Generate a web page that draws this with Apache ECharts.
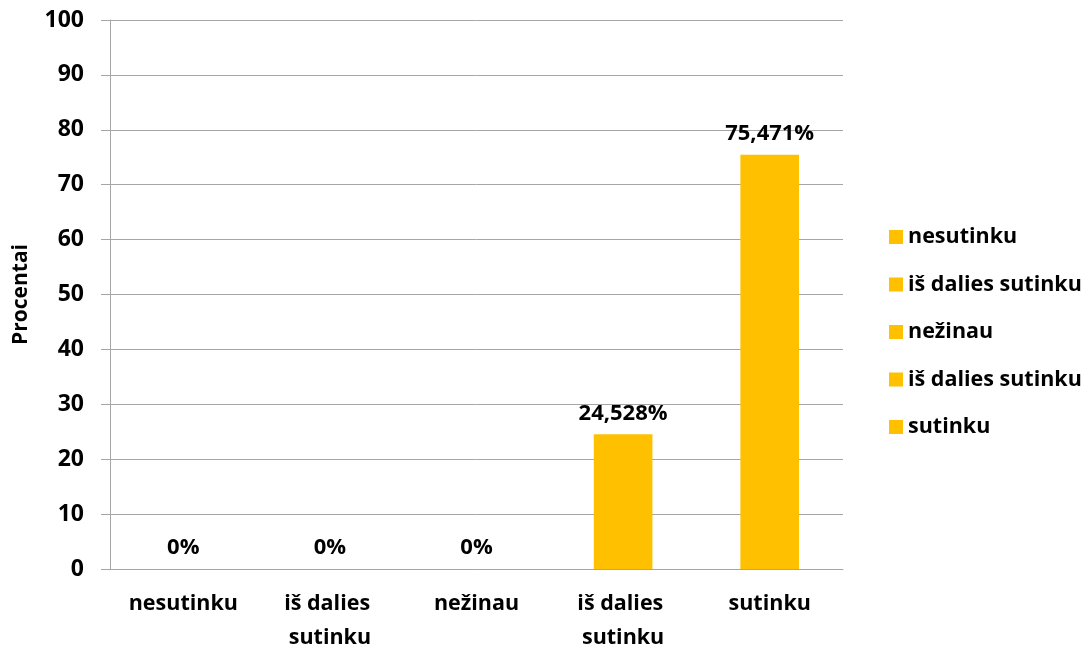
<!DOCTYPE html>
<html>
<head>
<meta charset="utf-8">
<script src="https://cdn.jsdelivr.net/npm/echarts@6/dist/echarts.min.js"></script>
<style>
    html, body { margin: 0; padding: 0; background: #fff; }
    #chart { width: 1088px; height: 647px; }
</style>
</head>
<body>
<div id="chart"></div>
<script>
var categories = ['nesutinku', 'iš dalies sutinku', 'nežinau', 'iš dalies sutinku', 'sutinku'];
var values = [0, 0, 0, 24.528, 75.471];
var yTicks = [0, 10, 20, 30, 40, 50, 60, 70, 80, 90, 100];

var chart = echarts.init(document.getElementById('chart'));
var font = '"Open Sans", Lato, sans-serif';
var gray = '#a6a6a6';

// one series per answer so the legend can list every answer, even duplicates
var series = [];
var legendKeys = [];
for (var i = 0; i < categories.length; i++) {
    var key = 's' + i;
    legendKeys.push(key);
    var data = [];
    for (var j = 0; j < categories.length; j++) {
        data.push(j === i ? values[i] : '-');
    }
    series.push({
        name: key,
        type: 'bar',
        stack: 'all',
        barWidth: '40%',
        itemStyle: { color: '#FFC000' },
        label: {
            show: true,
            position: 'top',
            distance: 10,
            color: '#000',
            fontFamily: font,
            fontWeight: 'bold',
            fontSize: 22,
            formatter: function (p) {
                return String(p.value).replace('.', ',') + '%';
            }
        },
        data: data
    });
}

var option = {
    animation: false,
    grid: { left: 110, right: 245, top: 20, bottom: 78, outerBoundsMode: 'none' },
    legend: {
        orient: 'vertical',
        left: 884,
        top: 219,
        icon: 'rect',
        itemWidth: 14,
        itemHeight: 14,
        itemGap: 21.5,
        data: legendKeys,
        formatter: function (name) {
            return categories[legendKeys.indexOf(name)];
        },
        textStyle: { color: '#000', fontFamily: font, fontWeight: 'bold', fontSize: 21.5, lineHeight: 26 }
    },
    xAxis: {
        type: 'category',
        data: categories,
        axisLine: { lineStyle: { color: gray } },
        axisTick: { length: 6, lineStyle: { color: gray } },
        axisLabel: {
            color: '#000',
            fontFamily: font,
            fontWeight: 'bold',
            fontSize: 21.5,
            lineHeight: 34,
            margin: 18,
            interval: 0,
            width: 135,
            overflow: 'break'
        }
    },
    yAxis: {
        type: 'value',
        min: yTicks[0],
        max: yTicks[yTicks.length - 1],
        interval: 10,
        name: 'Procentai',
        nameLocation: 'middle',
        nameGap: 78,
        nameTextStyle: { color: '#000', fontFamily: font, fontWeight: 'bold', fontSize: 21 },
        axisLine: { show: true, lineStyle: { color: gray } },
        axisTick: { show: true, length: 9, lineStyle: { color: gray } },
        splitLine: { lineStyle: { color: gray } },
        axisLabel: { color: '#000', fontFamily: font, fontWeight: 'bold', fontSize: 23, margin: 26 }
    },
    series: series
};
chart.setOption(option);
</script>
</body>
</html>
